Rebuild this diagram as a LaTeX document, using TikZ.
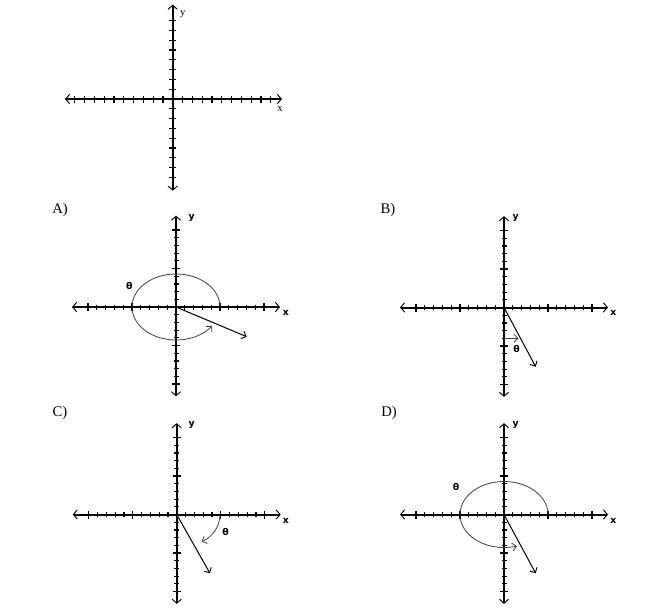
\documentclass[tikz,border=0pt]{standalone}
\usepackage{fontspec}
\setmainfont{Liberation Serif}
\newfontfamily\lblfont{DejaVu Sans}
\usetikzlibrary{arrows.meta}
\newcommand\drawpanelaxes{%
  \draw[axisline] (-104,0) -- (104,0);
  \draw[axisline] (0,-91.3) -- (0,89.3);
  \foreach \k in {-10,-9,...,-1,1,2,...,10}{%
    \pgfmathsetmacro\ticklen{ifthenelse(mod(abs(\k),5)==0,4,2.5)}%
    \draw[tickline] ({\k*8.8},-\ticklen) -- ({\k*8.8},\ticklen);
    \draw[tickline] (-\ticklen,{\k*7.7}) -- (\ticklen,{\k*7.7});
  }}
\begin{document}
\begin{tikzpicture}[x=0.75pt,y=-0.75pt,
  axisline/.style={line width=1.5pt,
    {Straight Barb[length=3pt,width=7pt,line width=0.7pt]}-{Straight Barb[length=3pt,width=7pt,line width=0.7pt]}},
  tickline/.style={line width=0.9pt},
  rayline/.style={line width=0.75pt, -{Straight Barb[length=3pt,width=6pt,line width=0.7pt]}},
  anglearc/.style={line width=0.6pt, black!75, -{Straight Barb[length=3pt,width=6pt,line width=0.6pt]}},
  optlabel/.style={font=\fontsize{11}{11}\selectfont, inner sep=0pt},
  axlabel/.style={font=\lblfont\bfseries\fontsize{7}{7}\selectfont, inner sep=0pt},
  toplabel/.style={font=\fontsize{8}{8}\selectfont, inner sep=0pt},
]
\useasboundingbox (0,0) rectangle (650,612);

% ---------- top graph ----------
\begin{scope}[shift={(172.7,99)}]
  \draw[axisline] (-107.7,0) -- (109.3,0);
  \draw[axisline] (0,-94.3) -- (0,91.7);
  \foreach \k in {-10,-9,...,-1,1,2,...,10}{%
    \draw[tickline] ({\k*9.8},-3.5) -- ({\k*9.8},3.5);}
  \foreach \k in {-8,-7,...,-1,1,2,...,8}{%
    \draw[tickline] (-3.5,{\k*9.8}) -- (3.5,{\k*9.8});}
  \node[toplabel] (ty) at (10,-85) {y};
  \node[toplabel] (tx) at (107.3,10) {x};
\end{scope}

% ---------- option labels ----------
\node[optlabel] (la) at (60,210) {A)};
\node[optlabel] (lb) at (388,210) {B)};
\node[optlabel] (lc) at (60,413) {C)};
\node[optlabel] (ld) at (389,413) {D)};

% ---------- A ----------
\begin{scope}[shift={(176,307)}]
  \drawpanelaxes
  \node[axlabel] (ay) at (15.7,-89.3) {y};
  \node[axlabel] (ax) at (110,5.7) {x};
  \coordinate (ao) at (0,0);
  \coordinate (ae) at (70.7,29.7);
  \draw[rayline] (ao) -- (ae);
  \draw[anglearc] plot[domain=0:325, samples=90, smooth] ({44*cos(\x)},{-33*sin(\x)});
  \node[axlabel] (at) at (-46.7,-21.3) {θ};
\end{scope}

% ---------- B ----------
\begin{scope}[shift={(504,307.5)}]
  \drawpanelaxes
  \node[axlabel] (by) at (11.7,-89.2) {y};
  \node[axlabel] (bx) at (109.3,5.8) {x};
  \coordinate (bo) at (0,0);
  \coordinate (be) at (31.7,59.2);
  \draw[rayline] (bo) -- (be);
  \coordinate (bs) at (0,30.8);
  \coordinate (bf) at (14.5,30.8);
  \draw[anglearc] (bs) -- (bf);
  \node[axlabel] (bt) at (12.7,41.8) {θ};
\end{scope}

% ---------- C ----------
\begin{scope}[shift={(176.7,514.5)}]
  \drawpanelaxes
  \node[axlabel] (cy) at (15,-89.5) {y};
  \node[axlabel] (cx) at (109.3,6.2) {x};
  \coordinate (co) at (0,0);
  \coordinate (ce) at (33.3,58.8);
  \draw[rayline] (co) -- (ce);
  \coordinate (cs) at (43.3,0);
  \coordinate (cf) at (25,27.2);
  \draw[anglearc] (cs) .. controls (43.3,12) and (36,22) .. (cf);
  \node[axlabel] (ct) at (49,17.2) {θ};
\end{scope}

% ---------- D ----------
\begin{scope}[shift={(504,514.5)}]
  \drawpanelaxes
  \node[axlabel] (dy) at (11.7,-89.5) {y};
  \node[axlabel] (dx) at (109.3,6.2) {x};
  \coordinate (do) at (0,0);
  \coordinate (de) at (31.7,58.8);
  \draw[rayline] (do) -- (de);
  \draw[anglearc] plot[domain=0:287, samples=90, smooth] ({44*cos(\x)},{-33*sin(\x)});
  \node[axlabel] (dt) at (-48,-27.2) {θ};
\end{scope}
\end{tikzpicture}
\end{document}
